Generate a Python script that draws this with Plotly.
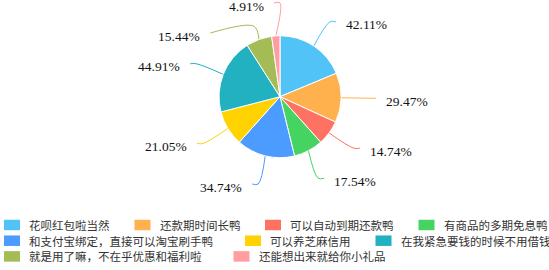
import math
import plotly.graph_objects as go

# ---------------- data ----------------
labels = ["花呗红包啦当然", "还款期时间长鸭", "可以自动到期还款鸭", "有商品的多期免息鸭",
          "和支付宝绑定，直接可以淘宝刷手鸭", "可以养芝麻信用", "在我紧急要钱的时候不用借钱",
          "就是用了嘛，不在乎优惠和福利啦", "还能想出来就给你小礼品"]
values = [42.11, 29.47, 14.74, 17.54, 34.74, 21.05, 44.91, 15.44, 4.91]
colors = ["#52C3F7", "#FFB14E", "#FF7163", "#45D461", "#4C9BFF",
          "#FFD200", "#21B1C0", "#A4BC55", "#FF9DA0"]

# ---------------- layout constants ----------------
W, H = 549, 270
CX, CY, R = 280, 96.7, 61          # pie centre / radius in pixels
L1, L2 = 29, 6                     # leader line segment lengths
RL = R + L1
GAP = 30                           # minimum vertical spacing of labels
YMIN = 3
LEG_X0, LEG_Y0, LEG_DY = 4, 225, 15.7
SW_W, SW_H, TXT_GAP, ITEM_GAP = 16, 10.5, 7, 27
CH_W = 11.5
LEG_MAX = 552

fig = go.Figure()

fig.add_trace(go.Pie(
    labels=labels, values=values, sort=False, direction="clockwise", rotation=0,
    marker=dict(colors=colors, line=dict(color="white", width=1)),
    textinfo="none", hoverinfo="label+value", showlegend=False,
    domain=dict(x=[(CX - R) / W, (CX + R) / W], y=[1 - (CY + R) / H, 1 - (CY - R) / H]),
))

# ---------------- label placement (derived from data) ----------------
total = sum(values)
cum = 0
info = []
for i, v in enumerate(values):
    a = (cum + v / 2) / total * 2 * math.pi
    cum += v
    side = 1 if math.sin(a) >= 0 else -1
    info.append(dict(i=i, a=a, side=side, y0=CY - RL * math.cos(a)))
for it in info:
    it["y"] = it["y0"]

for side in (1, -1):
    grp = sorted([it for it in info if it["side"] == side], key=lambda t: t["y0"])
    for _ in range(200):
        for j in range(len(grp) - 1):
            g = grp[j + 1]["y"] - grp[j]["y"]
            if g < GAP:
                d = (GAP - g) / 2
                grp[j]["y"] -= d
                grp[j + 1]["y"] += d
        for it in grp:
            if it["y"] < YMIN:
                it["y"] = YMIN

annotations = []
for it in info:
    a, side, y = it["a"], it["side"], it["y"]
    dy = y - CY
    xr = math.sqrt(max(RL * RL - dy * dy, 0))
    lx = CX + side * xr
    p0 = (CX + R * math.sin(a), CY - R * math.cos(a))
    if abs(y - it["y0"]) > 5:
        rr = R + 14
        p1 = (CX + rr * math.sin(a), CY - rr * math.cos(a))
    else:
        p1 = (lx, y)
    p2 = (lx + side * L2, y)
    fig.add_trace(go.Scatter(
        x=[p0[0], p1[0], p2[0]], y=[p0[1], p1[1], p2[1]], mode="lines",
        line=dict(color=colors[it["i"]], width=1, shape="spline"),
        hoverinfo="skip", showlegend=False))
    annotations.append(dict(
        x=p2[0] + side * 8, y=y + 3, xref="x", yref="y", showarrow=False,
        text=f"{values[it['i']]:.2f}%", xanchor="left" if side > 0 else "right",
        yanchor="middle", font=dict(family="Liberation Serif", size=13.5, color="#111111")))

# ---------------- manual legend (flow layout) ----------------
shapes = []
x, row = LEG_X0, 0
for lab, col in zip(labels, colors):
    tw = CH_W * len(lab) + (7 if "，" in lab else 0)
    iw = SW_W + TXT_GAP + tw
    if x + iw > LEG_MAX and x > LEG_X0:
        x, row = LEG_X0, row + 1
    yc = LEG_Y0 + row * LEG_DY
    shapes.append(dict(type="rect", xref="x", yref="y", x0=x, x1=x + SW_W,
                       y0=yc - SW_H / 2, y1=yc + SW_H / 2, fillcolor=col,
                       line=dict(width=0), layer="above"))
    annotations.append(dict(x=x + SW_W + TXT_GAP, y=yc, xref="x", yref="y", text=lab,
                            showarrow=False, xanchor="left", yanchor="middle",
                            font=dict(family="Noto Sans CJK SC", size=CH_W, color="#333333")))
    x += iw + ITEM_GAP

fig.update_layout(
    width=W, height=H, margin=dict(l=0, r=0, t=0, b=0),
    paper_bgcolor="white", plot_bgcolor="white",
    xaxis=dict(range=[0, W], visible=False, fixedrange=True, domain=[0, 1]),
    yaxis=dict(range=[H, 0], visible=False, fixedrange=True, domain=[0, 1]),
    annotations=annotations, shapes=shapes, showlegend=False,
)

fig.write_html("out.html", config={"displayModeBar": False},
               post_script="document.body.style.margin='0';")
